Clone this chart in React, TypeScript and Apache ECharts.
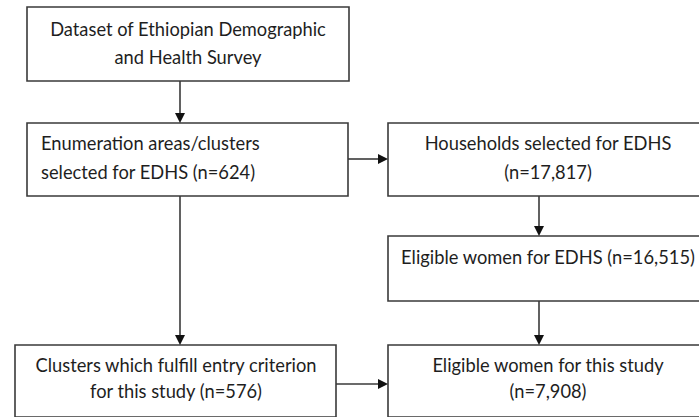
import React, { useEffect, useRef } from "react";
import * as echarts from "echarts";

// Flowchart content
const boxLines: string[][] = [
  ["Dataset of Ethiopian Demographic", "and Health Survey"],
  ["Enumeration areas/clusters", "selected for EDHS (n=624)"],
  ["Households selected for EDHS", "(n=17,817)"],
  ["Eligible women for EDHS (n=16,515)"],
  ["Clusters which fulfill entry criterion", "for this study (n=576)"],
  ["Eligible women for this study", "(n=7,908)"],
];
// edges: [fromBox, toBox]
const edges: [number, number][] = [
  [0, 1],
  [1, 2],
  [2, 3],
  [1, 4],
  [3, 5],
  [4, 5],
];

// Layout (positions only)
const boxRects = [
  { x: 27, y: 7, w: 322, h: 74 },
  { x: 27, y: 123, w: 321, h: 73 },
  { x: 388, y: 123, w: 322, h: 73 },
  { x: 388, y: 236, w: 322, h: 65 },
  { x: 15, y: 345, w: 321, h: 72 },
  { x: 388, y: 345, w: 322, h: 72 },
];
const textLayout = [
  { align: "center", x: 188, ys: [29, 57] },
  { align: "left", x: 41, ys: [143, 172] },
  { align: "center", x: 548, ys: [143, 172] },
  { align: "center", x: 548, ys: [257] },
  { align: "center", x: 176, ys: [365, 391] },
  { align: "center", x: 548, ys: [365, 391] },
];
const edgeLayout: { from: [number, number]; to: [number, number] }[] = [
  { from: [180, 81], to: [180, 123] },
  { from: [348, 159], to: [388, 159] },
  { from: [539, 196], to: [539, 236] },
  { from: [180, 196], to: [180, 345] },
  { from: [539, 301], to: [539, 345] },
  { from: [336, 384], to: [388, 384] },
];

const STROKE = "#3a3a3a";
const TEXT = "#1e1e1e";
const FONT = "Lato";
const FONT_SIZE = 18.3;

export default function App() {
  const ref = useRef<HTMLDivElement>(null);
  useEffect(() => {
    if (!ref.current) return;
    const chart = echarts.init(ref.current, undefined, { renderer: "svg" });
    const elements: any[] = [];
    boxRects.forEach((b) => {
      elements.push({
        type: "rect",
        shape: { x: b.x, y: b.y, width: b.w, height: b.h },
        style: { fill: "#ffffff", stroke: STROKE, lineWidth: 1.6 },
      });
    });
    boxLines.forEach((lines, i) => {
      const t = textLayout[i];
      lines.forEach((line, j) => {
        elements.push({
          type: "text",
          x: t.x,
          y: t.ys[j],
          style: {
            text: line,
            fill: TEXT,
            fontSize: FONT_SIZE,
            fontFamily: FONT,
            align: t.align,
            verticalAlign: "middle",
          },
        });
      });
    });
    edges.forEach((_, k) => {
      const e = edgeLayout[k];
      const [x1, y1] = e.from;
      const [x2, y2] = e.to;
      const dx = x2 - x1;
      const dy = y2 - y1;
      const len = Math.sqrt(dx * dx + dy * dy);
      const ux = dx / len;
      const uy = dy / len;
      const headL = 10;
      const headW = 5;
      const bx = x2 - ux * headL;
      const by = y2 - uy * headL;
      elements.push({
        type: "line",
        shape: { x1, y1, x2: bx, y2: by },
        style: { stroke: STROKE, lineWidth: 1.6 },
      });
      elements.push({
        type: "polygon",
        shape: {
          points: [
            [x2, y2],
            [bx - uy * headW, by + ux * headW],
            [bx + uy * headW, by - ux * headW],
          ],
        },
        style: { fill: "#111111" },
      });
    });
    chart.setOption({
      animation: false,
      backgroundColor: "#ffffff",
      graphic: { elements },
    });
    return () => chart.dispose();
  }, []);
  return (
    <div
      ref={ref}
      style={{ position: "fixed", left: 0, top: 0, width: 699, height: 417, background: "#fff" }}
    />
  );
}
